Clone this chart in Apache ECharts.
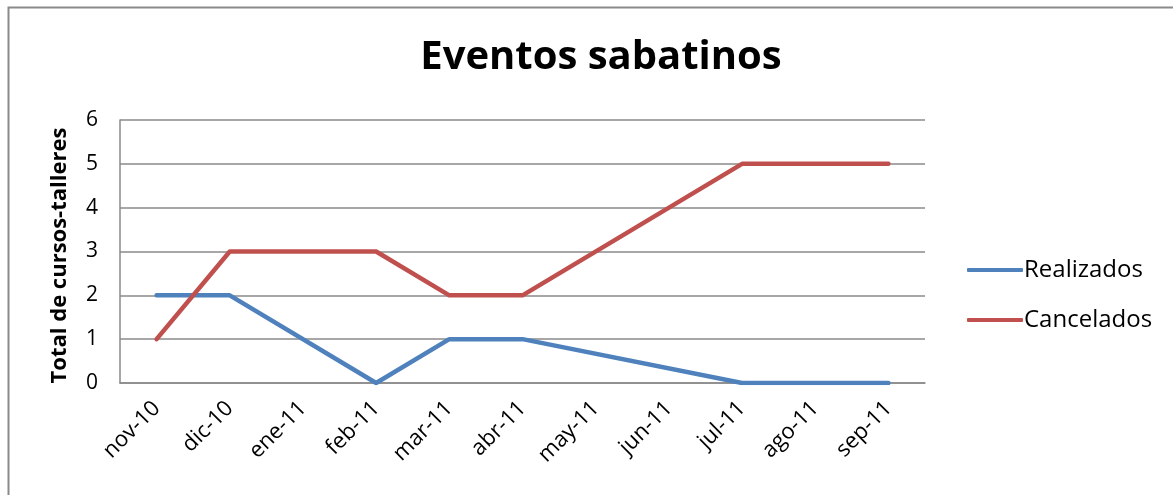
<!DOCTYPE html>
<html>
<head>
<meta charset="utf-8">
<script src="https://cdn.jsdelivr.net/npm/echarts@6/dist/echarts.min.js"></script>
<style>
  html, body { margin: 0; padding: 0; background: #fff; }
  #chart { width: 1173px; height: 495px; }
</style>
</head>
<body>
<div id="chart"></div>
<script>
// Months (categories) and monthly totals; null = month with no record (line joins across it)
const months = ['nov-10', 'dic-10', 'ene-11', 'feb-11', 'mar-11', 'abr-11', 'may-11', 'jun-11', 'jul-11', 'ago-11', 'sep-11'];
const realizados = [2, 2, null, 0, 1, 1, null, null, 0, 0, 0];
const cancelados = [1, 3, null, 3, 2, 2, null, null, 5, 5, 5];
const yTicks = [0, 1, 2, 3, 4, 5, 6];

const FONT = 'Open Sans, Liberation Sans, sans-serif';
const chart = echarts.init(document.getElementById('chart'), null, { renderer: 'canvas' });

chart.setOption({
  animation: false,
  backgroundColor: '#fff',
  title: {
    text: 'Eventos sabatinos',
    left: 596, top: 33, textAlign: 'center',
    textStyle: { fontFamily: FONT, fontWeight: 'bold', fontSize: 40, color: '#000' }
  },
  graphic: [{
    type: 'polyline',
    shape: { points: [[8.5, 495], [8.5, 7.5], [1173, 7.5]] },
    style: { stroke: '#8a8a8a', lineWidth: 2, fill: null }
  }],
  legend: {
    orient: 'vertical',
    left: 962, top: 253,
    itemWidth: 56, itemHeight: 4, itemGap: 26,
    icon: 'roundRect',
    textStyle: { fontFamily: FONT, fontSize: 24, color: '#000', padding: [0, 0, 0, -4] },
    data: ['Realizados', 'Cancelados']
  },
  grid: { left: 120, right: 248, top: 120, bottom: 112, containLabel: false },
  xAxis: {
    type: 'category',
    data: months,
    boundaryGap: true,
    axisLine: { lineStyle: { color: '#8a8a8a', width: 1.5 } },
    axisTick: { show: false },
    axisLabel: { rotate: 45, margin: 22, fontFamily: FONT, fontSize: 22, color: '#000', interval: 0 }
  },
  yAxis: {
    type: 'value',
    min: yTicks[0], max: yTicks[yTicks.length - 1], interval: 1,
    name: 'Total de cursos-talleres',
    nameLocation: 'middle', nameGap: 49, nameRotate: 90,
    nameTextStyle: { fontFamily: FONT, fontWeight: 'bold', fontSize: 22, color: '#000', padding: [0, 8, 0, 0] },
    axisLine: { show: true, lineStyle: { color: '#8a8a8a', width: 1.5 } },
    axisTick: { show: false },
    axisLabel: { margin: 22, fontFamily: FONT, fontSize: 21, color: '#000' },
    splitLine: { lineStyle: { color: '#8a8a8a', width: 1.5 } }
  },
  series: [
    {
      name: 'Realizados', type: 'line', data: realizados, connectNulls: true,
      symbol: 'none', color: '#4F81BD',
      lineStyle: { width: 4.5, color: '#4F81BD', cap: 'round', join: 'round' }
    },
    {
      name: 'Cancelados', type: 'line', data: cancelados, connectNulls: true,
      symbol: 'none', color: '#C0504D',
      lineStyle: { width: 4.5, color: '#C0504D', cap: 'round', join: 'round' }
    }
  ]
});
</script>
</body>
</html>
